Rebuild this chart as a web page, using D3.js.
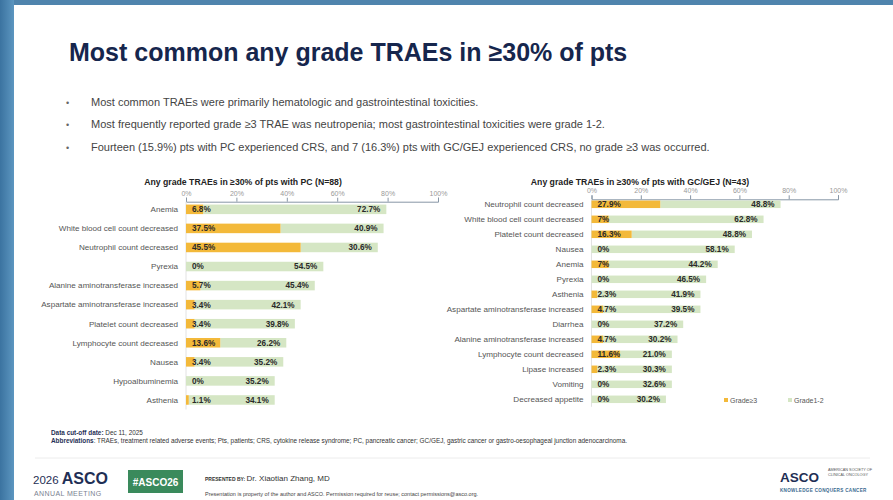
<!DOCTYPE html>
<html>
<head>
<meta charset="utf-8">
<script src="https://cdn.jsdelivr.net/npm/d3@7"></script>
<style>
  body { margin: 0; background: #fff; }
  svg { display: block; font-family: "Liberation Sans", Arial, sans-serif; }
</style>
</head>
<body>
<div id="slide"></div>
<script>
// PC cohort (N=88)
var pcCats = ["Anemia", "White blood cell count decreased", "Neutrophil count decreased", "Pyrexia",
  "Alanine aminotransferase increased", "Aspartate aminotransferase increased", "Platelet count decreased",
  "Lymphocyte count decreased", "Nausea", "Hypoalbuminemia", "Asthenia"];
var pcG3 = [6.8, 37.5, 45.5, 0, 5.7, 3.4, 3.4, 13.6, 3.4, 0, 1.1];
var pcG12 = [72.7, 40.9, 30.6, 54.5, 45.4, 42.1, 39.8, 26.2, 35.2, 35.2, 34.1];
var pcG3Labels = ["6.8%", "37.5%", "45.5%", "0%", "5.7%", "3.4%", "3.4%", "13.6%", "3.4%", "0%", "1.1%"];
var pcG12Labels = ["72.7%", "40.9%", "30.6%", "54.5%", "45.4%", "42.1%", "39.8%", "26.2%", "35.2%", "35.2%", "34.1%"];

// GC/GEJ cohort (N=43)
var gcCats = ["Neutrophil count decreased", "White blood cell count decreased", "Platelet count decreased",
  "Nausea", "Anemia", "Pyrexia", "Asthenia", "Aspartate aminotransferase increased", "Diarrhea",
  "Alanine aminotransferase increased", "Lymphocyte count decreased", "Lipase increased", "Vomiting",
  "Decreased appetite"];
var gcG3 = [27.9, 7, 16.3, 0, 7, 0, 2.3, 4.7, 0, 4.7, 11.6, 2.3, 0, 0];
var gcG12 = [48.8, 62.8, 48.8, 58.1, 44.2, 46.5, 41.9, 39.5, 37.2, 30.2, 21.0, 30.3, 32.6, 30.2];
var gcG3Labels = ["27.9%", "7%", "16.3%", "0%", "7%", "0%", "2.3%", "4.7%", "0%", "4.7%", "11.6%", "2.3%", "0%", "0%"];
var gcG12Labels = ["48.8%", "62.8%", "48.8%", "58.1%", "44.2%", "46.5%", "41.9%", "39.5%", "37.2%", "30.2%", "21.0%", "30.3%", "32.6%", "30.2%"];

var xTicks = [0, 20, 40, 60, 80, 100];
var bullets = [
  "Most common TRAEs were primarily hematologic and gastrointestinal toxicities.",
  "Most frequently reported grade \u22653 TRAE was neutropenia; most gastrointestinal toxicities were grade 1-2.",
  "Fourteen (15.9%) pts with PC experienced CRS, and 7 (16.3%) pts with GC/GEJ experienced CRS, no grade \u22653  was occurred."
];

var ORANGE = "#f3b93a";
var GREEN = "#d5e6c4";

var width = 893, height = 500;
var svg = d3.select("#slide").append("svg")
  .attr("width", width)
  .attr("height", height);

// blue frame of the screenshot
var defs = svg.append("defs");
var grad = defs.append("linearGradient").attr("id", "frameGrad").attr("x1", 0).attr("x2", 1);
grad.append("stop").attr("offset", "0%").attr("stop-color", "#3b73a0");
grad.append("stop").attr("offset", "100%").attr("stop-color", "#5c96c0");
svg.append("rect").attr("x", 0).attr("y", 0).attr("width", width).attr("height", height).attr("fill", "#fff");
svg.append("rect").attr("x", 0).attr("y", 0).attr("width", width).attr("height", 5).attr("fill", "#4f84ad");
svg.append("rect").attr("x", 0).attr("y", 0).attr("width", 14).attr("height", height).attr("fill", "url(#frameGrad)");

// title
svg.append("text")
  .attr("x", 69).attr("y", 61)
  .attr("font-size", 25).attr("font-weight", "bold")
  .attr("fill", "#16264d")
  .text("Most common any grade TRAEs in \u226530% of pts");

// bullets
bullets.forEach(function(b, i) {
  var y = 106 + i * 22.4;
  svg.append("text").attr("x", 66).attr("y", y).attr("font-size", 9).attr("fill", "#666").text("\u2022");
  svg.append("text").attr("x", 91).attr("y", y).attr("font-size", 11).attr("fill", "#444").text(b);
});

function drawChart(opts) {
  var g = svg.append("g");
  var x = d3.scaleLinear().domain([0, 100]).range([opts.x0, opts.x1]);
  var y = d3.scaleBand().domain(opts.cats).range([opts.y0, opts.y1])
    .paddingInner(0.5).paddingOuter(0.25);

  g.append("text")
    .attr("x", opts.titleX).attr("y", 185)
    .attr("text-anchor", "middle")
    .attr("font-size", 8.7).attr("font-weight", "bold").attr("fill", "#222")
    .text(opts.title);

  var axis = g.append("g")
    .attr("transform", "translate(0," + opts.axisY + ")")
    .call(d3.axisTop(x).tickValues(xTicks).tickSize(4).tickPadding(2).tickFormat(function(d) { return d + "%"; }));
  axis.select(".domain").attr("stroke", "#8796a6");
  axis.selectAll(".tick line").attr("stroke", "#8796a6");
  axis.selectAll(".tick text").attr("fill", "#999").attr("font-size", 7)
    .attr("font-family", "Liberation Sans, Arial, sans-serif");

  // faint zero line
  g.append("line")
    .attr("x1", x(0)).attr("x2", x(0))
    .attr("y1", opts.axisY).attr("y2", opts.y1)
    .attr("stroke", "#e2e2e2");

  var rows = g.selectAll(".row").data(opts.cats).enter().append("g").attr("class", "row");

  rows.append("rect")
    .attr("x", function(d, i) { return x(opts.g3[i]); })
    .attr("y", function(d) { return y(d); })
    .attr("width", function(d, i) { return x(opts.g3[i] + opts.g12[i]) - x(opts.g3[i]); })
    .attr("height", y.bandwidth())
    .attr("fill", GREEN);

  rows.append("rect")
    .attr("x", x(0))
    .attr("y", function(d) { return y(d); })
    .attr("width", function(d, i) { return x(opts.g3[i]) - x(0); })
    .attr("height", y.bandwidth())
    .attr("fill", ORANGE);

  rows.append("text")
    .attr("x", x(0) - 8)
    .attr("y", function(d) { return y(d) + y.bandwidth() / 2; })
    .attr("dy", "0.35em")
    .attr("text-anchor", "end")
    .attr("font-size", 8.1).attr("fill", "#555")
    .text(function(d) { return d; });

  rows.append("text")
    .attr("x", x(0) + 6)
    .attr("y", function(d) { return y(d) + y.bandwidth() / 2; })
    .attr("dy", "0.35em")
    .attr("font-size", 8.2).attr("font-weight", "bold").attr("fill", "#2a2a2a")
    .text(function(d, i) { return opts.g3Labels[i]; });

  rows.append("text")
    .attr("x", function(d, i) { return x(opts.g3[i] + opts.g12[i]) - 6; })
    .attr("y", function(d) { return y(d) + y.bandwidth() / 2; })
    .attr("dy", "0.35em")
    .attr("text-anchor", "end")
    .attr("font-size", 8.2).attr("font-weight", "bold").attr("fill", "#2a2a2a")
    .text(function(d, i) { return opts.g12Labels[i]; });
}

drawChart({
  title: "Any grade TRAEs in \u226530% of pts with PC (N=88)", titleX: 243,
  cats: pcCats, g3: pcG3, g12: pcG12, g3Labels: pcG3Labels, g12Labels: pcG12Labels,
  x0: 186, x1: 438, axisY: 201.7, y0: 199.8, y1: 409.5
});

drawChart({
  title: "Any grade TRAEs in \u226530% of pts with GC/GEJ (N=43)", titleX: 640,
  cats: gcCats, g3: gcG3, g12: gcG12, g3Labels: gcG3Labels, g12Labels: gcG12Labels,
  x0: 591.5, x1: 838, axisY: 199.3, y0: 196.8, y1: 406.8
});

// legend
var legend = [{ label: "Grade\u22653", color: ORANGE, x: 724 }, { label: "Grade1-2", color: GREEN, x: 788 }];
legend.forEach(function(l) {
  svg.append("rect").attr("x", l.x).attr("y", 398).attr("width", 4).attr("height", 4).attr("fill", l.color);
  svg.append("text").attr("x", l.x + 6).attr("y", 402.5).attr("font-size", 7).attr("fill", "#555").text(l.label);
});

// footnotes
var fn1 = svg.append("text").attr("x", 51).attr("y", 435).attr("font-size", 6.4).attr("fill", "#333");
fn1.append("tspan").attr("font-weight", "bold").attr("fill", "#1f2f55").text("Data cut-off date: ");
fn1.append("tspan").text("Dec 11, 2025");
var fn2 = svg.append("text").attr("x", 51).attr("y", 443).attr("font-size", 6.4).attr("fill", "#333");
fn2.append("tspan").attr("font-weight", "bold").attr("fill", "#1f2f55").text("Abbreviations");
fn2.append("tspan").text(": TRAEs, treatment related adverse events; Pts, patients; CRS, cytokine release syndrome; PC, pancreatic cancer; GC/GEJ, gastric cancer or gastro-oesophageal junction adenocarcinoma.");

svg.append("line").attr("x1", 35).attr("x2", 870).attr("y1", 458).attr("y2", 458).attr("stroke", "#ececec");

// footer: left logo
var logo = svg.append("text").attr("x", 33).attr("y", 484).attr("fill", "#1f2f55");
logo.append("tspan").attr("font-size", 11.5).text("2026 ");
logo.append("tspan").attr("font-size", 16).attr("font-weight", "bold").text("ASCO");
svg.append("text").attr("x", 34).attr("y", 496).attr("font-size", 7).attr("fill", "#7a8290")
  .attr("letter-spacing", 0.4).text("ANNUAL MEETING");

svg.append("rect").attr("x", 128).attr("y", 470).attr("width", 55).attr("height", 23).attr("fill", "#3a8a5c");
svg.append("text").attr("x", 155.5).attr("y", 485.5).attr("text-anchor", "middle")
  .attr("font-size", 10).attr("font-weight", "bold").attr("fill", "#fff").text("#ASCO26");

var pres = svg.append("text").attr("x", 205).attr("y", 481).attr("fill", "#333");
pres.append("tspan").attr("font-size", 5).attr("font-weight", "bold").text("PRESENTED BY: ");
pres.append("tspan").attr("font-size", 8).text("Dr. Xiaotian Zhang, MD");
svg.append("text").attr("x", 205).attr("y", 496).attr("font-size", 5.5).attr("fill", "#444")
  .text("Presentation is property of the author and ASCO. Permission required for reuse; contact permissions@asco.org.");

// footer: right logo
svg.append("text").attr("x", 780).attr("y", 482).attr("font-size", 13.5).attr("font-weight", "bold")
  .attr("fill", "#1f2f55").text("ASCO");
svg.append("text").attr("x", 828).attr("y", 471).attr("font-size", 3.8).attr("fill", "#555").text("AMERICAN SOCIETY OF");
svg.append("text").attr("x", 828).attr("y", 476).attr("font-size", 3.8).attr("fill", "#555").text("CLINICAL ONCOLOGY");
svg.append("text").attr("x", 780).attr("y", 492).attr("font-size", 4.6).attr("font-weight", "bold")
  .attr("fill", "#3a6a90").attr("letter-spacing", 0.3).text("KNOWLEDGE CONQUERS CANCER");
</script>
</body>
</html>
